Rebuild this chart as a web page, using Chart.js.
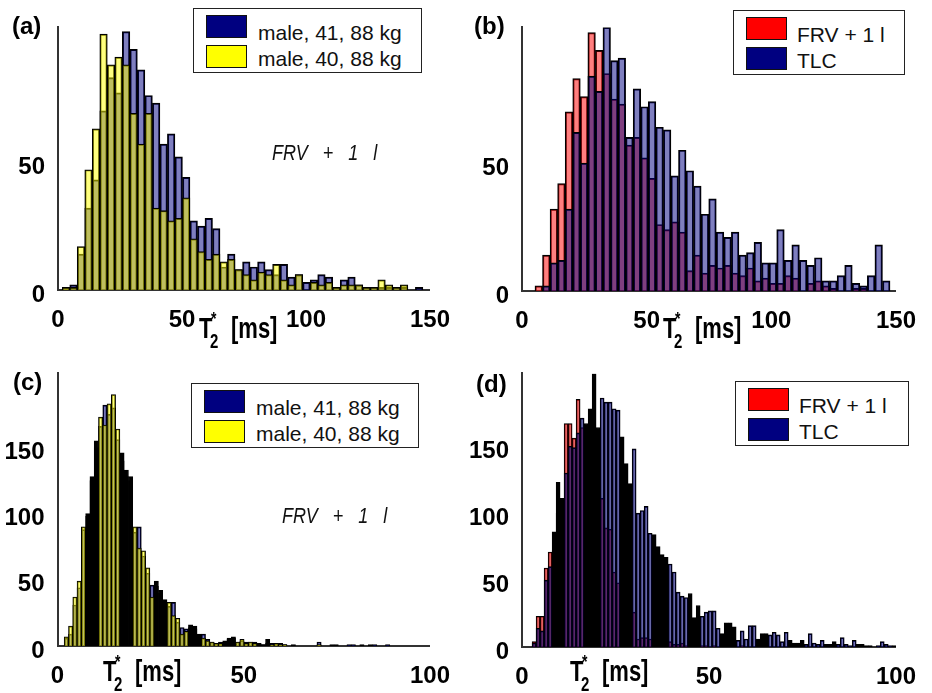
<!DOCTYPE html>
<html>
<head>
<meta charset="utf-8">
<script src="https://cdn.jsdelivr.net/npm/chart.js@4.4.1/dist/chart.umd.min.js"></script>
<style>
  body { margin: 0; background: #fff; }
  #page { position: relative; width: 932px; height: 693px; overflow: hidden; font-family: 'Liberation Sans', Arial, sans-serif; color: #000; }
  #page canvas { position: absolute; }
  .tag { position: absolute; font-weight: bold; font-size: 24px; line-height: 1; }
  .legend { position: absolute; box-sizing: border-box; border: 1.5px solid #222; background: #fff; z-index: 2; }
  .legend .sw { position: absolute; box-sizing: border-box; width: 41px; height: 23px; border: 1.5px solid #111; }
  .legend .txt { position: absolute; font-size: 21px; line-height: 1; white-space: nowrap; color: #111; }
  .note { position: absolute; font-size: 18px; font-style: italic; line-height: 1; word-spacing: 10px; color: #111; transform: scaleY(1.25); transform-origin: 0 0; white-space: nowrap; }
  .xlab { position: absolute; font-weight: bold; transform: scaleY(1.3); transform-origin: 0 0; z-index: 2; }
  .xlab span { position: absolute; line-height: 1; white-space: nowrap; }
</style>
</head>
<body>
<div id="page">
  <canvas id="chartA"></canvas>
  <canvas id="chartB"></canvas>
  <canvas id="chartC"></canvas>
  <canvas id="chartD"></canvas>
</div>
<script>
// bin layout of each histogram (ms)
const binWidthTop = 3.03;
const binStartA = 1.7;
const binStartB = 5.2;
const binWidthC = 1.15;
const binStartC = 1.8;
const binWidthD = 1.07;
const binStartD = 2.7;

// axis ticks
const xTicksTop = [0, 50, 100, 150];
const yTicksTop = [0, 50];
const xTicksBottom = [0, 50, 100];
const yTicksBottom = [0, 50, 100, 150];

// legend texts
const legendMale = ['male, 41, 88 kg', 'male, 40, 88 kg'];
const legendVolume = ['FRV + 1 l', 'TLC'];
const noteText = 'FRV + 1 l';

// (a) counts per bin
const male41A = [0, 2, 14, 32, 43, 70, 83, 77, 101, 94, 86, 76, 73, 57, 61, 52, 44, 27, 25, 28, 24, 9, 14, 8,
  11, 9, 11, 8, 6, 10, 5, 6, 3, 4, 6, 5, 1, 4, 5, 2, 1, 1, 1, 1, 1, 1, 0, 1];
const male40A = [1, 1, 17, 47, 63, 100, 88, 91, 88, 69, 57, 69, 32, 31, 27, 28, 36, 20, 15, 12, 14, 11, 12, 8,
  6, 4, 7, 6, 10, 4, 2, 6, 0, 3, 2, 3, 1, 2, 2, 2, 1, 1, 4, 2, 1, 2, 0, 0];

// (b) counts per bin
const frvB = [2, 14, 32, 42, 70, 83, 76, 101, 94, 85, 75, 73, 57, 60, 52, 44, 26, 24, 27, 23, 8, 14, 7, 10,
  9, 10, 7, 6, 9, 4, 5, 3, 3, 6, 5, 0, 3, 4, 2, 1, 0, 0, 1, 1, 0, 0, 0, 0];
const tlcB = [0, 2, 11, 12, 32, 62, 50, 84, 78, 103, 90, 91, 60, 79, 72, 74, 64, 63, 45, 55, 47, 41, 30, 36,
  23, 21, 23, 14, 15, 19, 11, 11, 24, 12, 18, 12, 10, 13, 4, 4, 6, 10, 3, 2, 6, 18, 4, 0];

// (c) counts per bin
const male41C = [6, 9, 31, 44, 88, 98, 128, 150, 166, 182, 175, 180, 156, 146, 133, 125, 86, 90, 68, 55,
  46, 49, 42, 35, 30, 33, 18, 14, 13, 16, 15, 9, 9, 5, 3, 2, 3, 4, 6, 7,
  3, 4, 3, 3, 3, 2, 1, 2, 2, 2, 2, 1, 0, 1, 0, 0, 0, 0, 0, 3,
  0, 0, 1, 1, 0, 0, 1, 1, 0, 1, 0, 1, 1, 0, 0, 1];
const male40C = [7, 15, 37, 49, 90, 100, 125, 155, 173, 167, 183, 190, 164, 140, 128, 128, 90, 74, 72, 59,
  37, 45, 40, 33, 33, 23, 21, 9, 11, 14, 13, 8, 6, 4, 3, 2, 2, 3, 5, 6,
  3, 5, 2, 3, 2, 1, 1, 5, 1, 2, 1, 1, 0, 0, 0, 0, 0, 0, 0, 1,
  0, 0, 0, 0, 0, 0, 0, 0, 0, 0, 0, 0, 0, 0, 0, 0];

// (d) counts per bin
const frvD = [4, 23, 23, 59, 71, 86, 123, 111, 167, 167, 156, 185, 164, 150, 140, 130, 120, 111, 89, 88,
  56, 48, 40, 30, 28, 26, 6, 7, 7, 6, 5, 5, 4, 3, 4, 2, 2, 3, 1, 2,
  1, 1, 1, 1, 0, 1, 0, 0, 1, 0, 0, 0, 1, 0, 0, 0, 0, 0, 0, 0,
  0, 0, 0, 0, 0, 0, 0, 0, 0, 0, 0, 0, 0, 0, 0, 0, 0, 0, 0, 0,
  0, 0, 0, 0, 0, 0, 0, 0, 0, 0, 0];
const tlcD = [3, 14, 12, 50, 60, 72, 100, 95, 130, 150, 149, 160, 171, 167, 178, 204, 164, 186, 183, 183,
  178, 177, 157, 137, 122, 148, 100, 102, 105, 85, 84, 75, 69, 67, 62, 56, 41, 38, 37, 40,
  22, 31, 23, 26, 27, 27, 14, 10, 18, 18, 15, 5, 12, 6, 16, 16, 6, 10, 10, 9,
  11, 9, 4, 11, 5, 3, 3, 5, 2, 10, 3, 2, 5, 2, 2, 4, 2, 7, 2, 1,
  5, 2, 2, 1, 1, 0, 1, 4, 2, 1, 1];

const navy = 'rgba(0, 0, 128, 0.5)';
const yellow = 'rgba(255, 255, 0, 0.5)';
const red = 'rgba(255, 0, 0, 0.5)';
const tickFont = { family: "'Liberation Sans', Arial, sans-serif", size: 24, weight: 'bold' };

// narrow bars of the lower panels come out black in bands (scan moire)
function bandColor(color, band) {
  return ctx => {
    if (!ctx.raw) return color;
    const phase = (((ctx.raw.x - band.start) / band.period) % 1 + 1) % 1;
    return phase < band.share ? color : '#000';
  };
}

// Function untuk membuat satu histogram
function makeHist(id, box, cfg) {
  const canvas = document.getElementById(id);
  canvas.width = box.w;
  canvas.height = box.h;
  canvas.style.left = box.x + 'px';
  canvas.style.top = box.y + 'px';

  const datasets = cfg.series.map(s => ({
    label: s.label,
    data: s.values.map((v, i) => ({ x: cfg.binStart + cfg.binWidth * (i + 0.5), y: v })),
    backgroundColor: cfg.band ? bandColor(s.color, cfg.band) : s.color,
    borderColor: '#000',
    borderWidth: cfg.edge,
    order: s.order,
    grouped: false,
    barPercentage: 1,
    categoryPercentage: 1
  }));

  new Chart(canvas.getContext('2d'), {
    type: 'bar',
    data: { datasets },
    options: {
      responsive: false,
      animation: false,
      events: [],
      layout: { padding: { top: box.padTop, right: box.padRight, left: 0, bottom: 0 } },
      plugins: { legend: { display: false }, tooltip: { enabled: false } },
      scales: {
        x: {
          type: 'linear',
          offset: false,
          min: 0,
          max: cfg.xMax,
          afterBuildTicks: ax => { ax.ticks = cfg.xTicks.map(v => ({ value: v })); },
          afterFit: ax => { ax.height = box.xAxisH; },
          grid: { display: false, drawTicks: false },
          border: { display: true, color: '#333', width: 2 },
          ticks: { font: tickFont, color: '#000', padding: 16, maxRotation: 0, autoSkip: false }
        },
        y: {
          min: 0,
          max: cfg.yMax,
          afterBuildTicks: ax => { ax.ticks = cfg.yTicks.map(v => ({ value: v })); },
          afterFit: ax => { ax.width = box.yAxisW; },
          grid: { display: false, drawTicks: false },
          border: { display: true, color: '#333', width: 2 },
          ticks: { font: tickFont, color: '#000', padding: 13, labelOffset: 5 }
        }
      }
    }
  });
}

makeHist('chartA', { x: 0, y: 0, w: 466, h: 346, yAxisW: 58, padTop: 13, padRight: 32, xAxisH: 56 }, {
  binStart: binStartA, binWidth: binWidthTop, xMax: 150, yMax: 102.6, xTicks: xTicksTop, yTicks: yTicksTop, edge: 1.3,
  series: [
    { label: legendMale[0], values: male41A, color: navy, order: 2 },
    { label: legendMale[1], values: male40A, color: yellow, order: 1 }
  ]
});

makeHist('chartB', { x: 466, y: 0, w: 466, h: 346, yAxisW: 56, padTop: 13, padRight: 34, xAxisH: 55 }, {
  binStart: binStartB, binWidth: binWidthTop, xMax: 150, yMax: 103, xTicks: xTicksTop, yTicks: yTicksTop, edge: 1.3,
  series: [
    { label: legendVolume[0], values: frvB, color: red, order: 2 },
    { label: legendVolume[1], values: tlcB, color: navy, order: 1 }
  ]
});

makeHist('chartC', { x: 0, y: 346, w: 466, h: 347, yAxisW: 57.5, padTop: 22, padRight: 32.5, xAxisH: 47 }, {
  binStart: binStartC, binWidth: binWidthC, xMax: 100, yMax: 206, xTicks: xTicksBottom, yTicks: yTicksBottom, edge: 1,
  band: { start: 11.0, period: 9.2, share: 0.6 },
  series: [
    { label: legendMale[0], values: male41C, color: navy, order: 2 },
    { label: legendMale[1], values: male40C, color: yellow, order: 1 }
  ]
});

makeHist('chartD', { x: 466, y: 346, w: 466, h: 347, yAxisW: 56, padTop: 25, padRight: 34, xAxisH: 46 }, {
  binStart: binStartD, binWidth: binWidthD, xMax: 100, yMax: 204.4, xTicks: xTicksBottom, yTicks: yTicksBottom, edge: 1,
  band: { start: 11.3, period: 9.1, share: 0.6 },
  series: [
    { label: legendVolume[0], values: frvD, color: red, order: 2 },
    { label: legendVolume[1], values: tlcD, color: navy, order: 1 }
  ]
});

// teks dan legenda di atas grafik
const page = document.getElementById('page');

function addDiv(cls, style, html) {
  const el = document.createElement('div');
  el.className = cls;
  Object.assign(el.style, style);
  el.innerHTML = html;
  page.appendChild(el);
  return el;
}

function addLegend(x, y, w, texts, colors, textLeft) {
  const box = addDiv('legend', { left: x + 'px', top: y + 'px', width: w + 'px', height: '65px' }, '');
  texts.forEach((t, i) => {
    const sw = document.createElement('div');
    sw.className = 'sw';
    Object.assign(sw.style, { left: '12px', top: (6 + 30 * i) + 'px', background: colors[i] });
    box.appendChild(sw);
    const tx = document.createElement('div');
    tx.className = 'txt';
    Object.assign(tx.style, { left: textLeft + 'px', top: (13 + 26 * i) + 'px' });
    tx.textContent = t;
    box.appendChild(tx);
  });
}

function addAxisTitle(x, y) {
  addDiv('xlab', { left: x + 'px', top: y + 'px' },
    '<span style="left:0;top:0;font-size:22px">T</span>' +
    '<span style="left:12px;top:-4px;font-size:14px">*</span>' +
    '<span style="left:11px;top:12px;font-size:15px">2</span>' +
    '<span style="left:32px;top:0;font-size:22px">[ms]</span>');
}

addDiv('tag', { left: '12px', top: '14px' }, '(a)');
addDiv('tag', { left: '474px', top: '14px' }, '(b)');
addDiv('tag', { left: '13px', top: '370px' }, '(c)');
addDiv('tag', { left: '476px', top: '372px' }, '(d)');

addLegend(193, 8, 229, legendMale, ['#000080', '#ffff00'], 64);
addLegend(733, 10, 172, legendVolume, ['#ff0000', '#000080'], 63);
addLegend(191, 383, 228, legendMale, ['#000080', '#ffff00'], 64);
addLegend(735, 381, 174, legendVolume, ['#ff0000', '#000080'], 63);

addDiv('note', { left: '272px', top: '141px' }, noteText);
addDiv('note', { left: '282px', top: '504px' }, noteText);

addAxisTitle(199, 315);
addAxisTitle(663, 315);
addAxisTitle(103, 658);
addAxisTitle(570, 658);
</script>
</body>
</html>
